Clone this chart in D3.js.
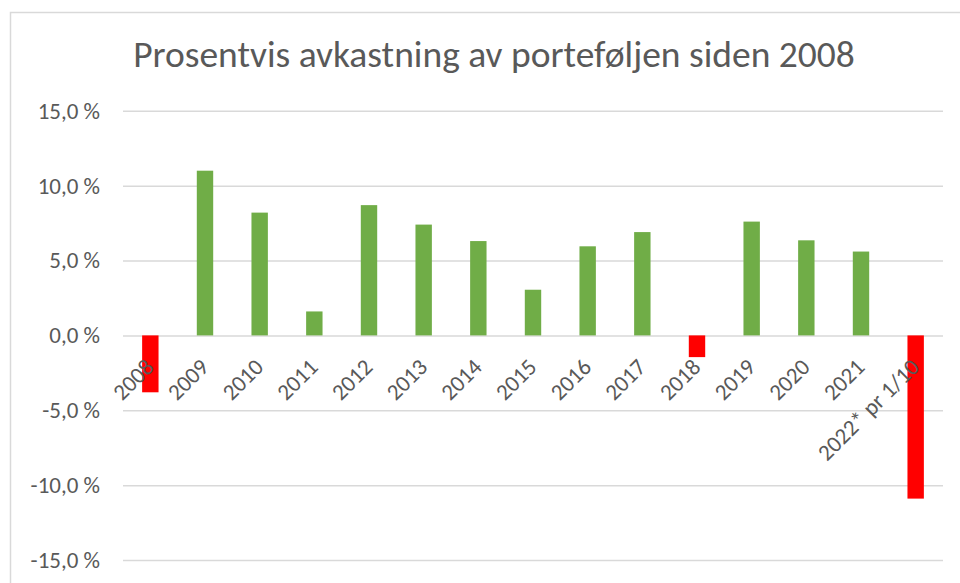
<!DOCTYPE html>
<html lang="no">
	<head>
		<meta charset="utf-8">
		<title>Prosentvis avkastning av porteføljen siden 2008</title>
		<script type="text/javascript" src="https://d3js.org/d3.v7.min.js"></script>
		<style type="text/css">
			body {
                margin: 0;
                background: #ffffff;
            }
            text {
                font-family: Carlito, "Noto Sans", "Open Sans", sans-serif;
                fill: #595959;
            }
            .grid line {
                stroke: #d9d9d9;
                stroke-width: 1.5;
            }
		</style>
	</head>

<body>

<script type="text/javascript">

const years = ["2008", "2009", "2010", "2011", "2012", "2013", "2014", "2015",
               "2016", "2017", "2018", "2019", "2020", "2021", "2022* pr 1/10"];

const returns = [-3.8, 11.0, 8.2, 1.6, 8.7, 7.4, 6.3, 3.05,
                 5.95, 6.9, -1.45, 7.6, 6.35, 5.6, -10.9];

const yTicks = [-15, -10, -5, 0, 5, 10, 15];

const title = "Prosentvis avkastning av porteføljen siden 2008";

const w = 960;
const h = 583;

const svg = d3.select("body")
              .append("svg")
              .attr("width", w)
              .attr("height", h);

// chart frame (only top and left edges are inside the crop)
svg.append("path")
   .attr("d", "M10.5," + h + "V12.5H" + w)
   .attr("fill", "none")
   .attr("stroke", "#d9d9d9")
   .attr("stroke-width", 1.5);

const xScale = d3.scaleBand()
       .domain(years)
       .range([123, 943])
       .paddingInner(0.7)
       .paddingOuter(0.35);

const yScale = d3.scaleLinear()
       .domain([-15, 15])
       .range([560, 110.8]);

const yAxis = d3.axisLeft(yScale)
                .tickValues(yTicks)
                .tickSize(-(943 - 123))
                .tickPadding(23)
                .tickFormat((d) => d3.format(".1f")(d).replace(".", ",").replace("−", "-") + " %");

svg.append("g")
   .attr("class", "grid")
   .attr("transform", "translate(123,0)")
   .call(yAxis)
   .call((g) => g.select(".domain").remove())
   .call((g) => g.selectAll("text")
                 .attr("font-size", 23)
                 .attr("fill", "#595959"));

svg.selectAll("rect.bar")
   .data(returns)
   .enter()
   .append("rect")
   .attr("class", "bar")
   .attr("x", (d, i) => xScale(years[i]))
   .attr("y", (d) => yScale(Math.max(0, d)))
   .attr("width", xScale.bandwidth())
   .attr("height", (d) => Math.abs(yScale(d) - yScale(0)))
   .attr("fill", (d) => d < 0 ? "#ff0000" : "#70ad47");

// category labels sit just below the zero line, turned 45 degrees
svg.selectAll("text.year")
   .data(years)
   .enter()
   .append("text")
   .attr("class", "year")
   .attr("text-anchor", "end")
   .attr("font-size", 23)
   .attr("transform", (d) => "translate(" + (xScale(d) + xScale.bandwidth() / 2 + 5) + "," + (yScale(0) + 33) + ") rotate(-45)")
   .text((d) => d);

svg.append("text")
   .attr("text-anchor", "middle")
   .attr("x", 494)
   .attr("y", 67)
   .attr("font-size", 37.5)
   .text(title);

</script>
</body>
</html>
